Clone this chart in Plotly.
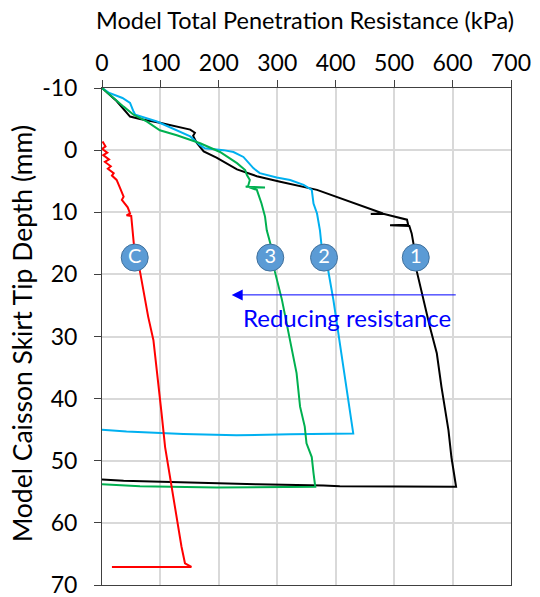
import plotly.graph_objects as go

# ---- data ----
# Test 1 (black)
x1 = [0, 25, 48, 65, 99, 151, 159, 156, 162, 174, 196, 231, 265, 299, 305, 368, 425, 481, 460, 483,
      522, 524, 493, 526, 530, 533, 539, 550, 561, 573, 581, 593, 598, 606, 580, 531, 442, 407, 379, 265, 37, 0]
y1 = [-10, -7.9, -5.4, -5.0, -4.4, -3.3, -2.8, -2.3, -1.2, 0.2, 1.2, 3.1, 4.2, 5.0, 5.1, 6.4, 8.3, 10.2, 10.3, 10.3,
      11.2, 12.0, 12.1, 12.2, 13.4, 15.0, 19.6, 24.1, 28.4, 32.7, 38.1, 45.1, 49.4, 54.2, 54.2, 54.2, 54.2, 54.1, 54.0, 53.8, 53.2, 53.0]

# Test 2 (light blue)
x2 = [0, 12.5, 35, 48, 54, 57, 94, 151, 168, 176, 208, 225, 242, 259, 270, 299, 322, 345, 359, 362, 368,
      373, 376, 387, 396, 404, 410, 419, 424, 430, 322, 230, 139, 82, 42, 0]
y2 = [-10, -9.2, -8.4, -7.6, -6.2, -5.7, -4.6, -2.2, -0.8, -0.3, 0.0, 0.3, 1.1, 2.9, 3.7, 4.4, 4.8, 5.6, 6.4, 8.6, 10.2,
      12.9, 15.6, 19.3, 24.1, 29.0, 33.3, 38.1, 41.3, 45.6, 45.75, 45.9, 45.7, 45.5, 45.3, 45.0]

# Test 3 (green)
x3 = [0, 19, 37, 54, 77, 99, 128, 168, 202, 231, 245, 248, 253, 250, 246, 279, 252, 265, 273, 279, 282, 288,
      296, 308, 316, 325, 333, 339, 347, 350, 359, 362, 365, 196, 65, 0]
y3 = [-10, -8.4, -7.0, -5.7, -4.6, -3.2, -2.4, -1.1, 0.3, 2.1, 3.2, 4.0, 4.8, 5.8, 5.9, 6.0, 6.0, 6.4, 8.6, 10.7, 12.9, 15.0,
      19.6, 24.1, 27.9, 32.2, 35.9, 41.3, 44.5, 47.2, 49.4, 52.0, 54.2, 54.3, 54.1, 53.8]

# Test C (red)
x4 = [1, 6, 0, 9, 2, 12, 5, 15, 10, 20, 17, 25, 31, 37, 34, 44, 48, 42, 50, 54, 56, 64, 71, 79, 88, 96,
      102, 108, 119, 128, 136, 142, 153, 17]
y4 = [-1.4, -0.6, -0.2, 0.4, 0.8, 1.5, 1.9, 2.6, 3.0, 3.7, 4.1, 4.8, 6.1, 7.5, 8.0, 9.2, 10.2, 10.5, 10.6, 13.9, 16.6, 19.0, 22.5, 26.8, 30.6, 37.0,
      42.4, 47.8, 54.2, 59.6, 63.8, 66.5, 67.1, 67.1]

# curve labels (bubbles)
label_text = ["C", "3", "2", "1"]
label_x = [56, 288, 380, 537]
label_y = [17.3, 17.3, 17.3, 17.3]

x_ticks = [0, 100, 200, 300, 400, 500, 600, 700]
y_ticks = [-10, 0, 10, 20, 30, 40, 50, 60, 70]
y_tick_text = ["-10", "0", "10", "20", "30", "40", "50", "60", "70"]

arrow_from_x, arrow_to_x, arrow_y = 608, 222, 23.3
note_text = "Reducing resistance"
note_x, note_y = 420, 27.0

FONT = "Lato"

fig = go.Figure()
for xs, ys, col in [(x1, y1, "#000000"), (x2, y2, "#00B0F0"), (x3, y3, "#00B050"), (x4, y4, "#FF0000")]:
    fig.add_trace(go.Scatter(x=xs, y=ys, mode="lines", line=dict(color=col, width=2),
                             showlegend=False, hoverinfo="skip"))

fig.add_trace(go.Scatter(
    x=label_x, y=label_y, mode="markers+text", text=label_text, textposition="middle center",
    marker=dict(size=27, color="#5B9BD5", line=dict(color="#41719C", width=1)),
    textfont=dict(family=FONT, size=20, color="white"), showlegend=False, hoverinfo="skip"))

fig.add_annotation(x=arrow_to_x, y=arrow_y, ax=arrow_from_x, ay=arrow_y, xref="x", yref="y",
                   axref="x", ayref="y", text="", showarrow=True, arrowhead=2, arrowsize=2.2,
                   arrowwidth=1, arrowcolor="#0000FF")
fig.add_annotation(x=note_x, y=note_y, xref="x", yref="y", text=note_text, showarrow=False,
                   font=dict(family=FONT, size=24, color="#0000FF"))

fig.add_annotation(x=0.496, y=1.17, xref="paper", yref="paper", text="Model Total Penetration Resistance (kPa)",
                   showarrow=False, font=dict(family=FONT, size=23.5, color="#000000"))
fig.add_annotation(x=-0.24, y=0.506, xref="paper", yref="paper", text="Model Caisson Skirt Tip Depth (mm)",
                   textangle=-90, showarrow=False, font=dict(family=FONT, size=26.5, color="#000000"))

fig.update_xaxes(side="top", range=[0, 700], tickvals=x_ticks, ticks="outside", ticklen=7,
                 tickcolor="#404040", showline=True, linecolor="#404040", linewidth=1, mirror=True,
                 showgrid=True, gridcolor="#D9D9D9", gridwidth=1.5, zeroline=False,
                 ticklabelstandoff=0, ticklabeloverflow="allow",
                 tickfont=dict(family=FONT, size=23, color="#000000"))
fig.update_yaxes(range=[70, -10], tickvals=y_ticks, ticktext=y_tick_text, ticks="outside", ticklen=7,
                 tickcolor="#404040", showline=True, linecolor="#404040", linewidth=1, mirror=True,
                 showgrid=True, gridcolor="#D9D9D9", gridwidth=1.5, zeroline=False,
                 ticklabelstandoff=12, ticklabeloverflow="allow",
                 tickfont=dict(family=FONT, size=23, color="#000000"))

fig.update_layout(width=540, height=597, margin=dict(l=102, r=29, t=88, b=12, autoexpand=False),
                  paper_bgcolor="white", plot_bgcolor="white", font=dict(family=FONT))

fig.write_html("out.html")
